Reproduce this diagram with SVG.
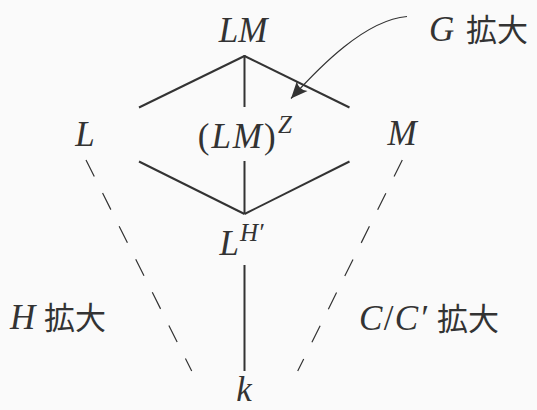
<svg xmlns="http://www.w3.org/2000/svg" width="537" height="410" viewBox="0 0 537 410">
<style>
.m{font-family:"Liberation Serif","DejaVu Serif",serif;font-style:italic;font-size:35px;fill:#333}
.r{font-style:normal}
.sup{font-size:25px}
.cjk{font-family:"Noto Sans CJK JP","Noto Sans CJK SC",sans-serif;font-style:normal;font-size:31px;fill:#333}
.solid{stroke:#333;stroke-width:2;fill:none}
.dash{stroke:#333;stroke-width:1.2;fill:none;stroke-dasharray:18.5 18.5}
.arc{stroke:#333;stroke-width:1.2;fill:none}
</style>
<defs>
<marker id="ah" markerUnits="userSpaceOnUse" markerWidth="20" markerHeight="20" refX="0" refY="0" viewBox="-16 -8 18 16" orient="auto">
<path d="M0,0 L-15,-6.5 Q-10,0 -15,6.5 Z" fill="#333"/>
</marker>
</defs>
<rect width="537" height="410" fill="#fafafa"/>
<g id="connectors">
<line class="solid" x1="244.5" y1="56" x2="139" y2="107.5"/>
<line class="solid" x1="244.5" y1="56" x2="349.5" y2="107.5"/>
<line class="solid" x1="244.5" y1="55" x2="244.5" y2="107"/>
<line class="solid" x1="139" y1="161.5" x2="244.5" y2="214"/>
<line class="solid" x1="349.5" y1="161.5" x2="244.5" y2="214"/>
<line class="solid" x1="244.5" y1="161" x2="244.5" y2="214"/>
<line class="solid" x1="244.5" y1="265" x2="244.5" y2="371"/>
<line class="dash" x1="86" y1="160" x2="191.7" y2="371"/>
<line class="dash" x1="402.3" y1="160" x2="297.7" y2="371"/>
<path class="arc" d="M407,16.5 C365,20 319.5,67 291,98.5" marker-end="url(#ah)"/>
</g>
<g id="LM"><text class="m" x="243" y="42" text-anchor="middle">LM</text></g>
<g id="L"><text class="m" x="85" y="146" text-anchor="middle">L</text></g>
<g id="M"><text class="m" x="402" y="145" text-anchor="middle">M</text></g>
<g id="LMZ"><text class="m" x="197.7" y="148" textLength="78"><tspan class="r">(</tspan>LM<tspan class="r">)</tspan></text><text class="m sup" x="278" y="133">Z</text></g>
<g id="LH"><text class="m" x="219.5" y="254.5">L</text><text class="m sup" x="240" y="240.7">H′</text></g>
<g id="k"><text class="m" x="244" y="401" text-anchor="middle">k</text></g>
<g id="Glabel"><text class="m" x="429" y="41">G</text><text class="cjk" x="466" y="41">拡大</text></g>
<g id="Hlabel"><text class="m" x="10" y="328.5">H</text><text class="cjk" x="44" y="328.5">拡大</text></g>
<g id="Clabel"><text class="m" x="359" y="329.5" textLength="68">C<tspan class="r">/</tspan>C′</text><text class="cjk" x="437" y="329.5">拡大</text></g>
</svg>
